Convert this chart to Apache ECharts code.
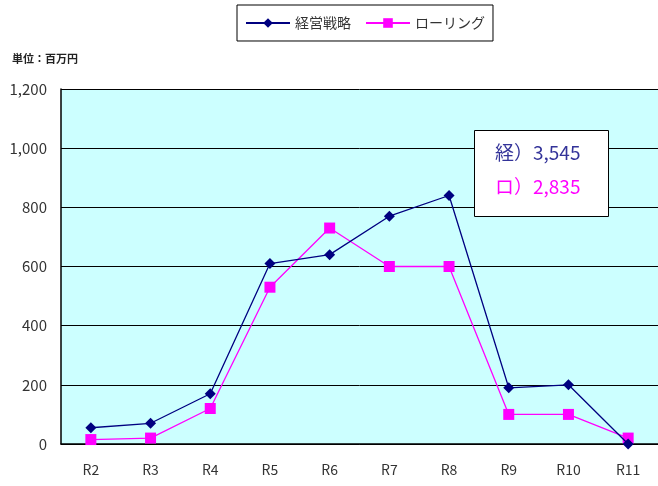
<!DOCTYPE html>
<html><head><meta charset="utf-8">
<script src="https://cdn.jsdelivr.net/npm/echarts@6/dist/echarts.min.js"></script>
<style>html,body{margin:0;padding:0;background:#fff}#c{width:658px;height:486px}</style>
</head><body><div id="c"></div>
<script>
const categories = ['R2','R3','R4','R5','R6','R7','R8','R9','R10','R11'];
const keiei = [55,70,170,610,640,770,840,190,200,0];
const rolling = [15,20,120,530,730,600,600,100,100,20];
const seriesNames = ['経営戦略','ローリング'];
const yTicks = {min:0,max:1200,interval:200};
const FONT = '"Noto Sans CJK JP", sans-serif';
const chart = echarts.init(document.getElementById('c'));
chart.setOption({
  animation:false,
  textStyle:{fontFamily:FONT},
  legend:{
    data:seriesNames, orient:'horizontal', top:5, left:237,
    padding:[11,8,11,8], borderColor:'#000', borderWidth:1, itemGap:14,
    itemWidth:44, itemHeight:12,
    textStyle:{fontFamily:FONT,fontSize:14,color:'#333'}
  },
  grid:{left:61, top:89, width:600, height:355},
  xAxis:{type:'category',data:categories,boundaryGap:true,
    axisLine:{lineStyle:{color:'#000',width:1.5}},
    axisTick:{inside:true,length:6,lineStyle:{color:'#000'}},
    axisLabel:{fontFamily:FONT,fontSize:14,color:'#333',margin:19}},
  yAxis:{type:'value',min:yTicks.min,max:yTicks.max,interval:yTicks.interval,
    axisLine:{show:true,lineStyle:{color:'#000',width:1.5}},
    axisTick:{show:false},
    splitLine:{lineStyle:{color:'#000',width:1}},
    splitArea:{show:true,areaStyle:{color:['#CCFFFF','#CCFFFF']}},
    axisLabel:{fontFamily:FONT,fontSize:15,color:'#333',margin:14,
      formatter:v=>v.toLocaleString('en-US')}},
  series:[
    {name:seriesNames[0],type:'line',data:keiei,symbol:'diamond',symbolSize:11,
     lineStyle:{color:'#000080',width:1.3},itemStyle:{color:'#000080'},z:3},
    {name:seriesNames[1],type:'line',data:rolling,symbol:'rect',symbolSize:11,
     lineStyle:{color:'#FF00FF',width:1.3},itemStyle:{color:'#FF00FF'},z:2}
  ],
  graphic:[
    {type:'text',left:12,top:53,style:{text:'単位：百万円',fontFamily:FONT,fontSize:11,fontWeight:'bold',fill:'#222'}},
    {type:'rect',left:474,top:130,shape:{width:134,height:86},style:{fill:'#fff',stroke:'#000',lineWidth:1},z:10},
    {type:'text',left:495,top:143,style:{text:'経）3,545',fontFamily:FONT,fontSize:19,fill:'#333399'},z:11},
    {type:'text',left:495,top:177,style:{text:'ロ）2,835',fontFamily:FONT,fontSize:19,fill:'#FF00FF'},z:11}
  ]
});
</script></body></html>
